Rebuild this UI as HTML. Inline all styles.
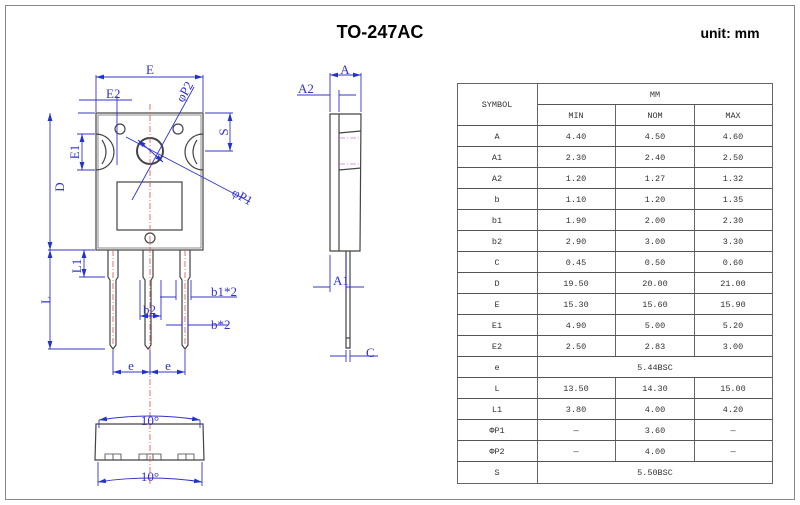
<!DOCTYPE html>
<html><head><style>
body{margin:0;background:#fff;}
svg{display:block}
.t{font-family:"Liberation Serif",serif;fill:#3333cc}
.tt{font-family:"Liberation Mono",monospace;font-size:8.5px;fill:#333;text-anchor:middle}
</style></head><body>
<svg width="800" height="505" viewBox="0 0 800 505">
<defs>
<marker id="a" viewBox="0 0 10 6" refX="10" refY="3" markerWidth="8" markerHeight="5" orient="auto-start-reverse" markerUnits="userSpaceOnUse"><path d="M0 0 L10 3 L0 6Z" fill="#2233cc"/></marker>
</defs>
<rect x="5.5" y="5.5" width="789" height="494" fill="none" stroke="#888" stroke-width="1"/>
<text x="380" y="38" font-family="Liberation Sans,sans-serif" font-weight="bold" font-size="18" text-anchor="middle">TO-247AC</text>
<text x="730" y="38" font-family="Liberation Sans,sans-serif" font-weight="bold" font-size="14" text-anchor="middle">unit: mm</text>

<g fill="none" stroke="#444" stroke-width="1.2">
<rect x="96" y="113" width="107" height="137"/>
<rect x="98" y="115" width="103" height="133" stroke-width="0.6"/>
<circle cx="120" cy="129" r="5"/>
<circle cx="178" cy="129" r="5"/>
<circle cx="150" cy="151" r="13" stroke-width="2"/>
<circle cx="150" cy="238" r="5"/>
<rect x="117" y="182" width="65" height="48"/>
<path d="M96 134 A16 16 0 0 1 96 170 M102 140 Q110 152 102 164"/>
<path d="M203 134 A16 16 0 0 0 203 170 M197 140 Q189 152 197 164"/>
<path d="M108 250 V277 L110 280 V345 L113 349 L116 345 V280 L118 277 V250"/>
<path d="M143 250 V277 L145 280 V345 L148 349 L151 345 V280 L153 277 V250"/>
<path d="M180 250 V277 L182 280 V345 L185 349 L188 345 V280 L190 277 V250"/>
<path d="M330 114 L361 114 L360 251 L330 251 Z"/>
<path d="M339 114 V251 M339 133 L361 131 M339 170 L361 168"/>
<path d="M346 251 V348 H350 V251 M346 338 H350"/>
<path d="M96 424 L203 424 L204 460 L95 460 Z"/>
<path d="M105 454 h16 v6 h-16z M113 454 v6 M139 454 h22 v6 h-22z M147 454 v6 M153 454 v6 M178 454 h16 v6 h-16z M186 454 v6" stroke-width="0.8"/>
</g>
<g stroke="#e05050" stroke-width="0.8" stroke-dasharray="6 2 1 2" fill="none">
<path d="M150 104 V485"/>
<path d="M113 250 V345 M185 250 V345"/>
<path d="M339 138 H361 M339 164 H361" stroke="#e070e0"/>
</g>
<g stroke="#3333cc" stroke-width="0.9" fill="none">
<path d="M96 75 V112 M203 75 V112 M117 96 V165 M77 134 H95 M77 170 H95 M205 113 H233 M205 151 H233 M78 113 H95 M48 250 H95 M48 349 H105 M79 277 H105"/>
<path d="M113 350 V375 M150 350 V375 M185 350 V375 M140 280 V320 M161 280 V320 M176 280 V300 M191 280 V300 M182 318 V330 M188 318 V330"/>
<path d="M99 420 V428 M200 420 V428 M98 462 V486 M202 462 V486 M330 73 V112 M361 73 V112 M339 90 V112 M330 255 V292 M346 255 V292 M346 350 V362 M350 350 V362"/>
</g>
<g stroke="#3333cc" stroke-width="0.9" fill="none" marker-start="url(#a)" marker-end="url(#a)">
<path d="M96 77 H203"/>
<path d="M50 113 V250"/><path d="M50 250 V349"/>
<path d="M82 134 V170"/>
<path d="M230 113 V151"/>
<path d="M84 250 V277"/>
<path d="M113 372 H150"/><path d="M150 372 H185"/>
<path d="M140 316 H161"/>
<path d="M99 420 Q150 412 200 420"/>
<path d="M98 482 Q150 474 202 482"/>
<path d="M330 75 H361"/>
<path d="M138 140 L163 162"/>
</g>
<g stroke="#3333cc" stroke-width="0.9" fill="none">
<path d="M79 100 H117 M117 100 H132 M132 200 L194 87 M126 137 L250 202"/>
<path d="M160 297 H176 M191 297 H237 M166 325 H182 M188 325 H228"/>
<path d="M297 95 H330 M339 95 H356 M313 287 H330 M346 287 H364 M330 356 H346 M350 356 H378"/>
</g>
<g class="t" font-size="13">
<text x="150" y="74" text-anchor="middle">E</text>
<text x="106" y="98">E2</text>
<text x="64" y="187" transform="rotate(-90 64 187)" text-anchor="middle">D</text>
<text x="79" y="152" transform="rotate(-90 79 152)" text-anchor="middle">E1</text>
<text x="228" y="132" transform="rotate(-90 228 132)" text-anchor="middle">S</text>
<text x="183" y="103" transform="rotate(-60 183 103)">φP2</text>
<text x="231" y="195" transform="rotate(30 231 195)">φP1</text>
<text x="81" y="266" transform="rotate(-90 81 266)" text-anchor="middle">L1</text>
<text x="50" y="300" transform="rotate(-90 50 300)" text-anchor="middle">L</text>
<text x="211" y="296">b1*2</text>
<text x="211" y="329">b*2</text>
<text x="143" y="314">b2</text>
<text x="131" y="370" text-anchor="middle">e</text>
<text x="168" y="370" text-anchor="middle">e</text>
<text x="150" y="425" text-anchor="middle">10°</text>
<text x="150" y="481" text-anchor="middle">10°</text>
<text x="345" y="74" text-anchor="middle">A</text>
<text x="298" y="93">A2</text>
<text x="333" y="285">A1</text>
<text x="366" y="357">C</text>
</g>

<g stroke="#555" stroke-width="0.9" fill="none">
<rect x="457.5" y="83.5" width="315" height="400"/>
<path d="M537.5 83.5 V483.5 M537.5 104.5 H772.5 M615.5 104.5 V356 M615.5 377 V462 M694.5 104.5 V356 M694.5 377 V462"/>
<path d="M457 125.5H772M457 146.5H772M457 167.5H772M457 188.5H772M457 209.5H772M457 230.5H772M457 251.5H772M457 272.5H772M457 293.5H772M457 314.5H772M457 335.5H772M457 356.5H772M457 377.5H772M457 398.5H772M457 419.5H772M457 440.5H772M457 461.5H772"/>
</g>
<g class="tt">
<text x="497" y="107">SYMBOL</text>
<text x="655" y="97">MM</text>
<text x="576" y="118">MIN</text><text x="655" y="118">NOM</text><text x="733" y="118">MAX</text>
<text x="497" y="139">A</text><text x="576" y="139">4.40</text><text x="655" y="139">4.50</text><text x="733" y="139">4.60</text>
<text x="497" y="160">A1</text><text x="576" y="160">2.30</text><text x="655" y="160">2.40</text><text x="733" y="160">2.50</text>
<text x="497" y="181">A2</text><text x="576" y="181">1.20</text><text x="655" y="181">1.27</text><text x="733" y="181">1.32</text>
<text x="497" y="202">b</text><text x="576" y="202">1.10</text><text x="655" y="202">1.20</text><text x="733" y="202">1.35</text>
<text x="497" y="223">b1</text><text x="576" y="223">1.90</text><text x="655" y="223">2.00</text><text x="733" y="223">2.30</text>
<text x="497" y="244">b2</text><text x="576" y="244">2.90</text><text x="655" y="244">3.00</text><text x="733" y="244">3.30</text>
<text x="497" y="265">C</text><text x="576" y="265">0.45</text><text x="655" y="265">0.50</text><text x="733" y="265">0.60</text>
<text x="497" y="286">D</text><text x="576" y="286">19.50</text><text x="655" y="286">20.00</text><text x="733" y="286">21.00</text>
<text x="497" y="307">E</text><text x="576" y="307">15.30</text><text x="655" y="307">15.60</text><text x="733" y="307">15.90</text>
<text x="497" y="328">E1</text><text x="576" y="328">4.90</text><text x="655" y="328">5.00</text><text x="733" y="328">5.20</text>
<text x="497" y="349">E2</text><text x="576" y="349">2.50</text><text x="655" y="349">2.83</text><text x="733" y="349">3.00</text>
<text x="497" y="370">e</text><text x="655" y="370">5.44BSC</text>
<text x="497" y="391">L</text><text x="576" y="391">13.50</text><text x="655" y="391">14.30</text><text x="733" y="391">15.00</text>
<text x="497" y="412">L1</text><text x="576" y="412">3.80</text><text x="655" y="412">4.00</text><text x="733" y="412">4.20</text>
<text x="497" y="433">ΦP1</text><text x="576" y="433">—</text><text x="655" y="433">3.60</text><text x="733" y="433">—</text>
<text x="497" y="454">ΦP2</text><text x="576" y="454">—</text><text x="655" y="454">4.00</text><text x="733" y="454">—</text>
<text x="497" y="475">S</text><text x="655" y="475">5.50BSC</text>
</g>
</svg>
</body></html>
